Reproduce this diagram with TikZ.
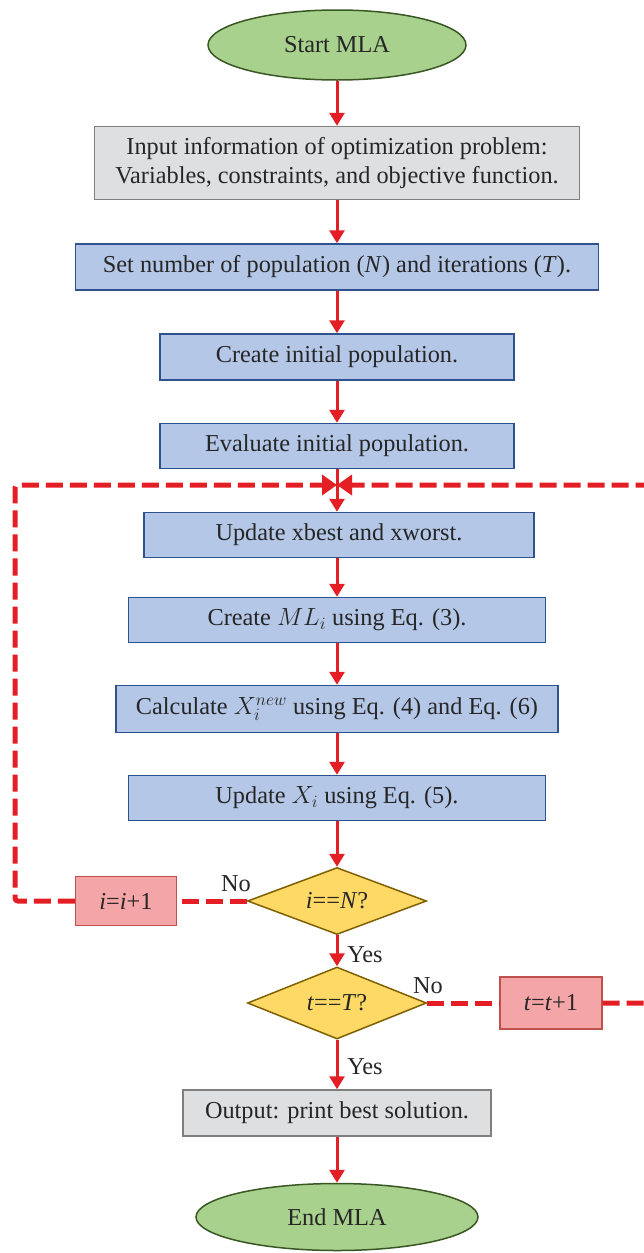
\documentclass[tikz,border=0pt]{standalone}
\usepackage{fontspec}
\setmainfont{Liberation Serif}
\usetikzlibrary{shapes.geometric,arrows.meta}

\definecolor{arrowred}{HTML}{E31E24}
\definecolor{startgreen}{HTML}{A9D18E}
\definecolor{startline}{HTML}{385723}
\definecolor{inputgray}{HTML}{DEDFE1}
\definecolor{grayline}{HTML}{7F7F7F}
\definecolor{stepblue}{HTML}{B4C7E7}
\definecolor{blueline}{HTML}{2F528F}
\definecolor{testyellow}{HTML}{FFD966}
\definecolor{yellowline}{HTML}{7F6000}
\definecolor{countpink}{HTML}{F4A5A8}
\definecolor{pinkline}{HTML}{C0504D}

\tikzset{
  txt/.style={font=\fontsize{24.3}{29}\selectfont, text=black!85},
  terminal/.style={txt, ellipse, draw=startline, line width=1.5pt, fill=startgreen, inner sep=0pt},
  iobox/.style={txt, rectangle, draw=grayline, line width=1.5pt, fill=inputgray, inner sep=0pt, align=center},
  stepbox/.style={txt, rectangle, draw=blueline, line width=1.5pt, fill=stepblue, inner sep=0pt, align=center},
  testbox/.style={txt, diamond, draw=yellowline, line width=1.5pt, fill=testyellow, inner sep=0pt, aspect=2.67},
  countbox/.style={txt, rectangle, draw=pinkline, line width=1.2pt, fill=countpink, inner sep=0pt},
  flow/.style={draw=arrowred, line width=3pt, -{Triangle[length=13pt,width=15pt]}},
  loopline/.style={draw=arrowred, line width=5pt, dash pattern=on 17pt off 7pt},
  loopback/.style={loopline, -{Triangle[length=15pt,width=20pt]}, rounded corners=3pt}
}

\begin{document}
\begin{tikzpicture}[x=1pt,y=-1pt]
\useasboundingbox (0,0) rectangle (643,1253);

% main column
\node[terminal, minimum width=258pt, minimum height=70pt] (start) at (337,45) {Start MLA};
\node[iobox, minimum width=485pt, minimum height=73pt] (input) at (337,163)
   {Input information of optimization problem:\\Variables, constraints, and objective function.};
\node[stepbox, minimum width=523pt, minimum height=46pt] (setn) at (337,267)
   {Set number of population (\textit{N}) and iterations (\textit{T}).};
\node[stepbox, minimum width=354pt, minimum height=46pt] (create) at (337,357) {Create initial population.};
\node[stepbox, minimum width=354pt, minimum height=45pt] (eval) at (337,446) {Evaluate initial population.};
\node[stepbox, minimum width=390pt, minimum height=45pt] (upd) at (339,535) {Update xbest and xworst.};
\node[stepbox, minimum width=417pt, minimum height=45pt] (ml) at (337,620) {Create $ML_i$ using Eq. (3).};
\node[stepbox, minimum width=442pt, minimum height=47pt] (calc) at (337,709)
   {Calculate $X_i^{new}$ using Eq. (4) and Eq. (6)};
\node[stepbox, minimum width=417pt, minimum height=45pt] (updx) at (337,798) {Update $X_i$ using Eq. (5).};
\node[testbox, minimum width=179pt, minimum height=67pt] (iN) at (337,901) {\textit{i}==\textit{N}?};
\node[testbox, minimum width=179pt, minimum height=72pt] (tT) at (337,1003) {\textit{t}==\textit{T}?};
\node[iobox, minimum width=308pt, minimum height=46pt] (out) at (337,1113) {Output: print best solution.};
\node[terminal, minimum width=282pt, minimum height=67pt] (end) at (337,1217) {End MLA};

% counters
\node[countbox, minimum width=101pt, minimum height=49pt] (iinc) at (126,901) {\textit{i}=\textit{i}+1};
\node[countbox, minimum width=102pt, minimum height=52pt] (tinc) at (551,1003) {\textit{t}=\textit{t}+1};

% labels
\node[txt] (noi) at (236,884) {No};
\node[txt] (yesi) at (365,955) {Yes};
\node[txt] (not) at (428,986) {No};
\node[txt] (yest) at (365,1067) {Yes};

\coordinate (merge) at (337,485);
\coordinate (lft) at (15,485);
\coordinate (rgt) at (670,485);

% solid flow
\foreach \a/\b in {start/input, input/setn, setn/create, create/eval,
                   ml/calc, calc/updx, updx/iN, iN/tT, tT/out, out/end}
   \draw[flow] (\a) -- (\b);
\draw[flow] (eval) -- (eval |- upd.north);
\draw[flow] (upd.south -| ml) -- (ml);

% loops
\draw[loopline] (iN.west) -- (iinc.east);
\draw[loopback] (iinc.west) -| (lft) -- (merge);
\draw[loopline] (tT.east) -- (tinc.west);
\draw[loopback] (tinc.east) -| (rgt) -- (merge);
\end{tikzpicture}
\end{document}
